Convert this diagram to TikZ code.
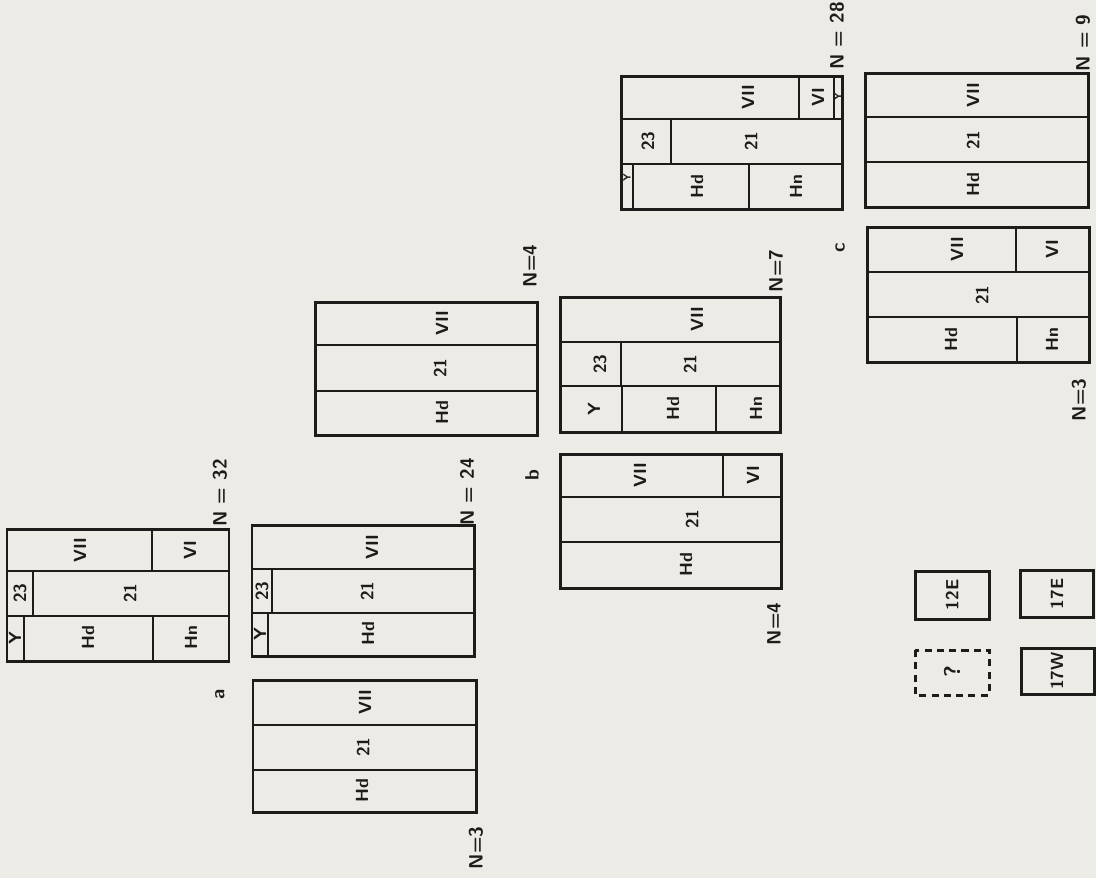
\documentclass[tikz,border=0pt]{standalone}
\usepackage{xcolor}
\usepackage{tikz}

\definecolor{paper}{RGB}{236,235,230}
\definecolor{ink}{RGB}{30,28,26}

\begin{document}
\begin{tikzpicture}[x=0.2mm, y=-0.2mm,
    frame/.style={draw=ink, line width=1.7pt},
    part/.style={draw=ink, line width=1.6pt},
    cell/.style={rotate=90, text=ink, inner sep=0pt, font=\sffamily\bfseries\fontsize{10}{12}\selectfont},
    thin/.style={rotate=90, text=ink, inner sep=0pt, font=\sffamily\bfseries\fontsize{6}{7}\selectfont},
    count/.style={rotate=90, text=ink, inner sep=0pt, font=\sffamily\bfseries\fontsize{11}{13}\selectfont}]

    % paper
    \fill[paper] (0,0) rectangle (1096,878);

    % Group a, N = 32
    \draw[frame] (7,529) rectangle (229,661);
    \draw[part] (7,571) -- (229,571) (7,616) -- (229,616);
    \draw[part] (152,529) -- (152,571) (33,571) -- (33,616) (24,616) -- (24,661) (153,616) -- (153,661);
    \node[cell] (a1vii) at (80,550) {VII};
    \node[cell] (a1vi) at (190,550) {VI};
    \node[cell] (a1xxiii) at (20,593) {23};
    \node[cell] (a1xxi) at (130,593) {21};
    \node[cell] (a1y) at (15,638) {Y};
    \node[cell] (a1hd) at (88,638) {Hd};
    \node[cell] (a1hn) at (191,638) {Hn};
    \node[count] (a1n) at (220,493) {N = 32};
    \node[count] (alabel) at (220,694) {a};

    % Group a, N = 24
    \draw[frame] (252,525) rectangle (474,656);
    \draw[part] (252,569) -- (474,569) (252,613) -- (474,613);
    \draw[part] (272,569) -- (272,613) (268,613) -- (268,656);
    \node[cell] (a2vii) at (372,547) {VII};
    \node[cell] (a2xxiii) at (262,591) {23};
    \node[cell] (a2xxi) at (367,591) {21};
    \node[cell] (a2y) at (260,634) {Y};
    \node[cell] (a2hd) at (368,634) {Hd};
    \node[count] (a2n) at (467,492) {N = 24};

    % Group a, N = 3
    \draw[frame] (253,680) rectangle (476,812);
    \draw[part] (253,725) -- (476,725) (253,770) -- (476,770);
    \node[cell] (a3vii) at (365,702) {VII};
    \node[cell] (a3xxi) at (363,747) {21};
    \node[cell] (a3hd) at (362,791) {Hd};
    \node[count] (a3n) at (476,848) {N=3};

    % Group b, N = 4 (upper)
    \draw[frame] (315,302) rectangle (537,435);
    \draw[part] (315,345) -- (537,345) (315,391) -- (537,391);
    \node[cell] (b0vii) at (442,323) {VII};
    \node[cell] (b0xxi) at (440,368) {21};
    \node[cell] (b0hd) at (442,413) {Hd};
    \node[count] (b0n) at (530,266) {N=4};
    \node[count] (blabel) at (532,475) {b};

    % Group b, N = 7
    \draw[frame] (560,297) rectangle (780,432);
    \draw[part] (560,342) -- (780,342) (560,386) -- (780,386);
    \draw[part] (621,342) -- (621,386) (622,386) -- (622,432) (716,386) -- (716,432);
    \node[cell] (b1vii) at (697,319) {VII};
    \node[cell] (b1xxiii) at (600,364) {23};
    \node[cell] (b1xxi) at (690,364) {21};
    \node[cell] (b1y) at (594,409) {Y};
    \node[cell] (b1hd) at (673,409) {Hd};
    \node[cell] (b1hn) at (756,409) {Hn};
    \node[count] (b1n) at (776,271) {N=7};

    % Group b, N = 4 (lower)
    \draw[frame] (560,454) rectangle (781,588);
    \draw[part] (560,497) -- (781,497) (560,542) -- (781,542);
    \draw[part] (723,454) -- (723,497);
    \node[cell] (b2vii) at (640,475) {VII};
    \node[cell] (b2vi) at (753,475) {VI};
    \node[cell] (b2xxi) at (692,519) {21};
    \node[cell] (b2hd) at (686,565) {Hd};
    \node[count] (b2n) at (774,624) {N=4};

    % Group c, N = 28
    \draw[frame] (621,76) rectangle (842,209);
    \draw[part] (621,119) -- (842,119) (621,164) -- (842,164);
    \draw[part] (799,76) -- (799,119) (834,76) -- (834,119);
    \draw[part] (671,119) -- (671,164);
    \draw[part] (633,164) -- (633,209) (749,164) -- (749,209);
    \node[cell] (c1vii) at (748,97) {VII};
    \node[cell] (c1vi) at (818,97) {VI};
    \node[thin] (c1ytop) at (838,97) {Y};
    \node[cell] (c1xxiii) at (648,141) {23};
    \node[cell] (c1xxi) at (751,141) {21};
    \node[thin] (c1y) at (627,178) {Y};
    \node[cell] (c1hd) at (697,187) {Hd};
    \node[cell] (c1hn) at (796,187) {Hn};
    \node[count] (c1n) at (837,36) {N = 28};
    \node[count] (clabel) at (840,248) {c};

    % Group c, N = 9
    \draw[frame] (865,73) rectangle (1088,207);
    \draw[part] (865,117) -- (1088,117) (865,162) -- (1088,162);
    \node[cell] (c0vii) at (973,95) {VII};
    \node[cell] (c0xxi) at (973,140) {21};
    \node[cell] (c0hd) at (973,185) {Hd};
    \node[count] (c0n) at (1083,43) {N = 9};

    % Group c, N = 3
    \draw[frame] (867,227) rectangle (1089,362);
    \draw[part] (867,272) -- (1089,272) (867,317) -- (1089,317);
    \draw[part] (1016,227) -- (1016,272) (1017,317) -- (1017,362);
    \node[cell] (c2vii) at (957,249) {VII};
    \node[cell] (c2vi) at (1052,249) {VI};
    \node[cell] (c2xxi) at (982,295) {21};
    \node[cell] (c2hd) at (951,340) {Hd};
    \node[cell] (c2hn) at (1052,340) {Hn};
    \node[count] (c2n) at (1079,400) {N=3};

    % Key
    \draw[frame] (915,571) rectangle (989,619);
    \node[cell] (k12e) at (952,595) {12E};
    \draw[frame] (1020,570) rectangle (1093,617);
    \node[cell] (k17e) at (1057,594) {17E};
    \draw[frame, dash pattern=on 4pt off 3pt] (915,650) rectangle (989,695);
    \node[cell, font=\sffamily\bfseries\fontsize{13}{15}\selectfont] (kunk) at (952,672) {?};
    \draw[frame] (1021,648) rectangle (1094,694);
    \node[cell] (k17w) at (1057,671) {17W};
\end{tikzpicture}
\end{document}
